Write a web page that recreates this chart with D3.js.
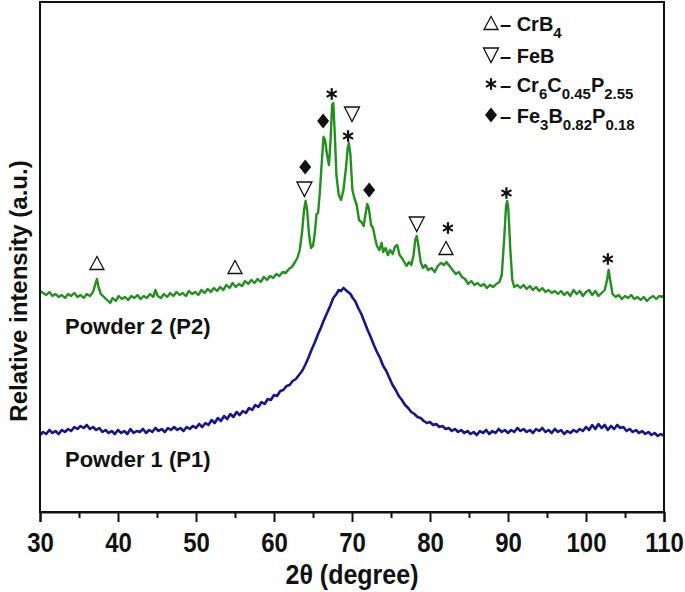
<!DOCTYPE html>
<html><head><meta charset="utf-8">
<script src="https://cdn.jsdelivr.net/npm/d3@7/dist/d3.min.js"></script>
<style>
body{margin:0;background:#fff;}
svg{display:block;}
text{font-family:"Liberation Sans",Arial,Helvetica,sans-serif;font-weight:bold;fill:#111;}
</style>
</head><body>
<svg id="chart" width="685" height="592"></svg>
<script>
// ---------- data (2θ in degrees, intensity in arbitrary units) ----------
const p2Angle = [30.0,30.4,30.8,31.2,31.6,32.0,32.4,32.8,33.2,33.6,34.0,34.4,34.8,35.2,35.6,36.0,36.4,36.8,37.1,37.3,37.5,37.8,38.2,38.6,39.0,39.3,39.7,40.1,40.5,40.9,41.3,41.7,42.1,42.5,42.9,43.3,43.7,44.1,44.5,44.8,45.1,45.5,45.9,46.3,46.7,47.1,47.5,47.9,48.3,48.7,49.1,49.5,49.9,50.3,50.7,51.1,51.5,51.9,52.3,52.7,53.1,53.5,53.9,54.3,54.7,55.1,55.5,55.9,56.3,56.7,57.1,57.5,57.9,58.3,58.7,59.1,59.5,59.9,60.3,60.7,61.1,61.5,61.9,62.3,62.7,63.0,63.3,63.6,63.85,64.05,64.25,64.5,64.75,65.0,65.25,65.45,65.65,65.85,66.1,66.35,66.55,66.8,67.05,67.25,67.45,67.6,67.8,68.0,68.3,68.6,68.9,69.2,69.45,69.6,69.8,70.05,70.3,70.6,70.9,71.2,71.5,71.75,71.95,72.15,72.45,72.7,72.95,73.2,73.5,73.8,74.0,74.3,74.6,74.9,75.2,75.5,75.8,76.1,76.4,76.7,77.0,77.3,77.6,77.9,78.1,78.3,78.5,78.8,79.1,79.4,79.8,80.2,80.6,81.0,81.4,81.8,82.1,82.5,82.9,83.3,83.7,84.1,84.5,84.9,85.3,85.7,86.1,86.5,86.9,87.3,87.7,88.1,88.5,88.9,89.2,89.5,89.75,89.9,90.05,90.3,90.55,90.8,91.2,91.6,92.0,92.4,92.8,93.2,93.6,94.0,94.4,94.8,95.2,95.6,96.0,96.4,96.8,97.2,97.6,98.0,98.4,98.8,99.2,99.6,100.0,100.4,100.8,101.2,101.6,102.0,102.4,102.7,102.9,103.1,103.4,103.8,104.2,104.6,105.0,105.4,105.8,106.2,106.6,107.0,107.4,107.8,108.2,108.6,109.0,109.4,109.8,110.0];
const p2Intensity = [221,219,217,220,216,218,215,217,214,218,216,219,215,217,214,218,216,220,228,233,225,218,215,212,209,214,211,216,213,215,212,216,214,217,213,216,214,218,215,222,216,214,218,215,219,216,220,217,219,216,221,218,220,217,222,219,223,220,224,221,225,222,227,224,229,225,228,226,231,228,232,229,233,230,235,232,236,234,238,236,240,239,243,245,250,254,262,280,302,311,302,277,264,266,280,298,299,317,347,375,372,357,347,372,407,409,377,337,317,312,322,342,364,369,357,322,314,307,292,290,286,299,308,304,287,284,274,266,262,269,260,264,257,262,258,265,267,257,254,250,246,250,247,257,272,276,267,250,244,247,242,244,240,246,249,247,250,246,242,238,240,235,233,228,231,227,229,226,228,224,227,225,228,230,237,272,306,311,302,262,232,225,227,224,227,223,226,222,225,221,224,220,222,219,221,218,221,217,220,216,222,218,221,216,220,222,217,221,216,219,222,232,242,232,218,215,217,213,216,214,217,213,215,212,215,211,214,216,213,216,215,217];

const p1Angle = [30.0,30.4,30.8,31.2,31.6,32.0,32.4,32.8,33.2,33.6,34.0,34.4,34.8,35.2,35.6,36.0,36.4,36.8,37.2,37.6,38.0,38.4,38.8,39.2,39.6,40.0,40.4,40.8,41.2,41.6,42.0,42.4,42.8,43.2,43.6,44.0,44.4,44.8,45.2,45.6,46.0,46.4,46.8,47.2,47.6,48.0,48.4,48.8,49.2,49.6,50.0,50.4,50.8,51.2,51.6,52.0,52.4,52.8,53.2,53.6,54.0,54.4,54.8,55.2,55.6,56.0,56.4,56.8,57.2,57.6,58.0,58.4,58.8,59.2,59.6,60.0,60.4,60.8,61.2,61.6,62.0,62.4,62.8,63.2,63.6,64.0,64.4,64.8,65.2,65.6,66.0,66.4,66.8,67.2,67.6,68.0,68.3,68.6,68.9,69.2,69.5,69.8,70.1,70.4,70.8,71.2,71.6,72.0,72.4,72.8,73.2,73.6,74.0,74.4,74.8,75.2,75.6,76.0,76.4,76.8,77.2,77.6,78.0,78.4,78.8,79.2,79.6,80.0,80.4,80.8,81.2,81.6,82.0,82.4,82.8,83.2,83.6,84.0,84.4,84.8,85.2,85.6,86.0,86.4,86.8,87.2,87.6,88.0,88.4,88.8,89.2,89.6,90.0,90.4,90.8,91.2,91.6,92.0,92.4,92.8,93.2,93.6,94.0,94.4,94.8,95.2,95.6,96.0,96.4,96.8,97.2,97.6,98.0,98.4,98.8,99.2,99.6,100.0,100.4,100.8,101.2,101.6,102.0,102.4,102.8,103.2,103.6,104.0,104.4,104.8,105.2,105.6,106.0,106.4,106.8,107.2,107.6,108.0,108.4,108.8,109.2,109.6,110.0];
const p1Intensity = [77,80,78,82,79,81,78,82,80,83,81,85,83,86,84,87,83,85,82,84,80,82,79,81,78,82,79,81,78,83,79,81,80,83,79,82,80,84,81,83,80,84,82,85,82,84,81,85,83,86,84,88,85,89,87,92,89,94,91,96,93,98,95,100,97,101,99,104,102,107,105,110,108,113,112,117,116,121,122,126,127,131,133,137,141,147,154,162,169,177,184,192,199,206,214,218,222,221,224,222,220,218,214,211,204,198,190,182,175,167,160,154,146,141,134,127,122,116,112,107,104,100,98,95,94,91,89,90,87,88,85,86,83,84,81,83,80,82,79,81,78,80,77,81,79,82,78,81,79,83,80,82,79,82,80,84,81,83,80,82,79,83,81,84,80,82,79,83,80,82,78,81,79,82,80,83,81,85,82,87,83,88,84,87,82,86,83,87,84,85,81,83,80,82,79,81,78,80,77,79,76,78,76];

// x-axis ticks
const xMajorTicks = [30,40,50,60,70,80,90,100,110];
const xMinorTicks = [35,45,55,65,75,85,95,105];

// peak annotations: angle, level (a.u.), phase symbol
const annAngle  = [37.3, 55.0, 63.9, 64.0, 66.3, 67.4, 70.0, 69.5, 72.2, 78.3, 82.3, 82.05, 89.8, 102.8];
const annLevel  = [249, 245, 323, 345, 391, 418, 398, 376, 322, 288, 284, 264, 319, 253];
const annSymbol = ["up","up","down","diamond","diamond","star","down","star","diamond","down","star","up","star","star"];

// legend
const legendSymbols = ["up","down","star","diamond"];
const legendParts = [
  [["– CrB",0],["4",1]],
  [["– FeB",0]],
  [["– Cr",0],["6",1],["C",0],["0.45",1],["P",0],["2.55",1]],
  [["– Fe",0],["3",1],["B",0],["0.82",1],["P",0],["0.18",1]]
];
const seriesLabels = ["Powder 2 (P2)","Powder 1 (P1)"];

// ---------- layout ----------
const svg = d3.select("#chart");
const L = 40, R = 664, T = 2, B = 512;
const x = d3.scaleLinear().domain([30,110]).range([L,R]);
const y = d3.scaleLinear().domain([0,510]).range([B,T]);

const GREEN = "#22901f", BLUE = "#16168a";

const line = d3.line().x(d=>x(d[0])).y(d=>y(d[1]));
const p2 = p2Angle.map((a,i)=>[a,p2Intensity[i]]);
const p1 = p1Angle.map((a,i)=>[a,p1Intensity[i]]);

svg.append("path").datum(p2).attr("d",line).attr("fill","none")
  .attr("stroke",GREEN).attr("stroke-width",2.4).attr("stroke-linejoin","round");
svg.append("path").datum(p1).attr("d",line).attr("fill","none")
  .attr("stroke",BLUE).attr("stroke-width",2.6).attr("stroke-linejoin","round");

// symbol drawing
function drawSymbol(g, type, cx, cy){
  if(type==="up"){
    g.append("path").attr("d",`M${cx},${cy-6.5} L${cx+7},${cy+6.5} L${cx-7},${cy+6.5} Z`)
      .attr("fill","#fff").attr("stroke","#111").attr("stroke-width",1.3).attr("stroke-linejoin","miter");
  } else if(type==="down"){
    g.append("path").attr("d",`M${cx-7.5},${cy-7} L${cx+7.5},${cy-7} L${cx},${cy+7.5} Z`)
      .attr("fill","#fff").attr("stroke","#111").attr("stroke-width",1.3).attr("stroke-linejoin","miter");
  } else if(type==="diamond"){
    g.append("path").attr("d",`M${cx},${cy-7.5} L${cx+6},${cy} L${cx},${cy+7.5} L${cx-6},${cy} Z`)
      .attr("fill","#111");
  } else if(type==="star"){
    const r = 5.8;
    [90,30,150].forEach(a=>{
      const t = a*Math.PI/180;
      g.append("line").attr("x1",cx-r*Math.cos(t)).attr("y1",cy-r*Math.sin(t))
        .attr("x2",cx+r*Math.cos(t)).attr("y2",cy+r*Math.sin(t))
        .attr("stroke","#111").attr("stroke-width",2.2);
    });
  }
}

const ann = svg.append("g");
annAngle.forEach((a,i)=> drawSymbol(ann, annSymbol[i], x(a), y(annLevel[i])));

// frame
svg.append("rect").attr("x",L).attr("y",T).attr("width",R-L).attr("height",B-T)
  .attr("fill","none").attr("stroke","#111").attr("stroke-width",2);

// x axis
const gx = svg.append("g").attr("transform",`translate(0,${B})`)
  .call(d3.axisBottom(x).tickValues(xMajorTicks).tickSize(10).tickFormat(d3.format("d")));
gx.select(".domain").attr("stroke","#111").attr("stroke-width",2);
gx.selectAll(".tick line").attr("stroke","#111").attr("stroke-width",2);
gx.selectAll(".tick text").attr("y",40/1.12).attr("dy",null)
  .attr("transform","scale(1,1.12)")
  .style("font-size","24px").style("font-family","'Liberation Sans',Arial,sans-serif").style("font-weight","bold").attr("fill","#111");

const gxm = svg.append("g").attr("transform",`translate(0,${B})`)
  .call(d3.axisBottom(x).tickValues(xMinorTicks).tickSize(6).tickFormat(""));
gxm.select(".domain").remove();
gxm.selectAll(".tick line").attr("stroke","#111").attr("stroke-width",2);

// axis titles
svg.append("text").attr("transform",`translate(${(L+R)/2},${584}) scale(1,1.12)`)
  .attr("text-anchor","middle").style("font-size","25px").text("2θ (degree)");
svg.append("text").attr("transform",`translate(27,291) rotate(-90)`)
  .attr("text-anchor","middle").style("font-size","24px").text("Relative intensity (a.u.)");

// series labels
svg.append("text").attr("x",65).attr("y",334).style("font-size","22px").text(seriesLabels[0]);
svg.append("text").attr("x",65).attr("y",467).style("font-size","22px").text(seriesLabels[1]);

// legend
const leg = svg.append("g");
const rowBase = [31,63,92,123];
legendSymbols.forEach((s,i)=>{
  drawSymbol(leg, s, 491, rowBase[i]-8);
  const t = leg.append("text").attr("x",500).attr("y",rowBase[i]).style("font-size","20px");
  let sub = false;
  legendParts[i].forEach(([str,isSub])=>{
    const ts = t.append("tspan").text(str);
    if(isSub && !sub){ ts.attr("dy",7).style("font-size","15px"); sub=true; }
    else if(isSub && sub){ ts.style("font-size","15px"); }
    else if(!isSub && sub){ ts.attr("dy",-7); sub=false; }
  });
});
</script>
</body></html>
